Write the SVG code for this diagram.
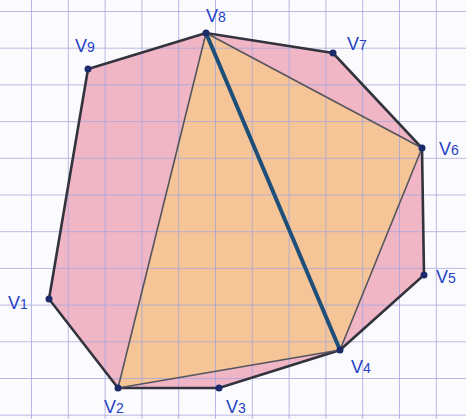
<svg xmlns="http://www.w3.org/2000/svg" width="466" height="419" viewBox="0 0 466 419">
<defs>
<pattern id="grid" x="31" y="11" width="36.8" height="36.7" patternUnits="userSpaceOnUse">
<path d="M0 0V36.7M0 0H36.8" fill="none" stroke="#a3a3dd" stroke-width="1.5"/>
</pattern>
</defs>
<style>
.edge{stroke:#33333d;stroke-width:2.6;fill:none;stroke-linecap:round}
.diag{stroke:#55555e;stroke-width:1.6;fill:none}
.key{stroke:#1d4f7a;stroke-width:4;fill:none;stroke-linecap:round}
.dot{fill:#1c2a6b}
.lbl{font-family:"Liberation Sans",Arial,sans-serif;font-size:18px;fill:#2440c4}
.sub{font-size:14px}
</style>
<rect width="466" height="419" fill="#fbfbfd"/>
<g id="fills">
<polygon points="206,33 88,69 49,299 118,388 219,388 340,350 424,275 422,148 333,53" fill="#f0b6c6"/>
<polygon points="206,33 118,388 340,350" fill="#f6c597"/>
<polygon points="206,33 340,350 422,148" fill="#f6c597"/>
</g>
<rect width="466" height="419" fill="url(#grid)"/>
<g id="connectors">
<polygon class="edge" points="206,33 88,69 49,299 118,388 219,388 340,350 424,275 422,148 333,53"/>
<line class="diag" x1="206" y1="33" x2="118" y2="388"/>
<line class="diag" x1="118" y1="388" x2="340" y2="350"/>
<line class="diag" x1="206" y1="33" x2="422" y2="148"/>
<line class="diag" x1="422" y1="148" x2="340" y2="350"/>
<line class="key" x1="206" y1="33" x2="340" y2="350"/>
</g>
<g id="v1"><circle class="dot" cx="49" cy="299" r="3.5"/><text class="lbl" x="8" y="309">V<tspan class="sub">1</tspan></text></g>
<g id="v2"><circle class="dot" cx="118" cy="388" r="3.5"/><text class="lbl" x="104" y="413">V<tspan class="sub">2</tspan></text></g>
<g id="v3"><circle class="dot" cx="219" cy="388" r="3.5"/><text class="lbl" x="226" y="413">V<tspan class="sub">3</tspan></text></g>
<g id="v4"><circle class="dot" cx="340" cy="350" r="3.5"/><text class="lbl" x="351" y="373">V<tspan class="sub">4</tspan></text></g>
<g id="v5"><circle class="dot" cx="424" cy="275" r="3.5"/><text class="lbl" x="436" y="283">V<tspan class="sub">5</tspan></text></g>
<g id="v6"><circle class="dot" cx="422" cy="148" r="3.5"/><text class="lbl" x="439" y="155">V<tspan class="sub">6</tspan></text></g>
<g id="v7"><circle class="dot" cx="333" cy="53" r="3.5"/><text class="lbl" x="347" y="50">V<tspan class="sub">7</tspan></text></g>
<g id="v8"><circle class="dot" cx="206" cy="33" r="3.5"/><text class="lbl" x="206" y="22">V<tspan class="sub">8</tspan></text></g>
<g id="v9"><circle class="dot" cx="88" cy="69" r="3.5"/><text class="lbl" x="75" y="52">V<tspan class="sub">9</tspan></text></g>
</svg>
